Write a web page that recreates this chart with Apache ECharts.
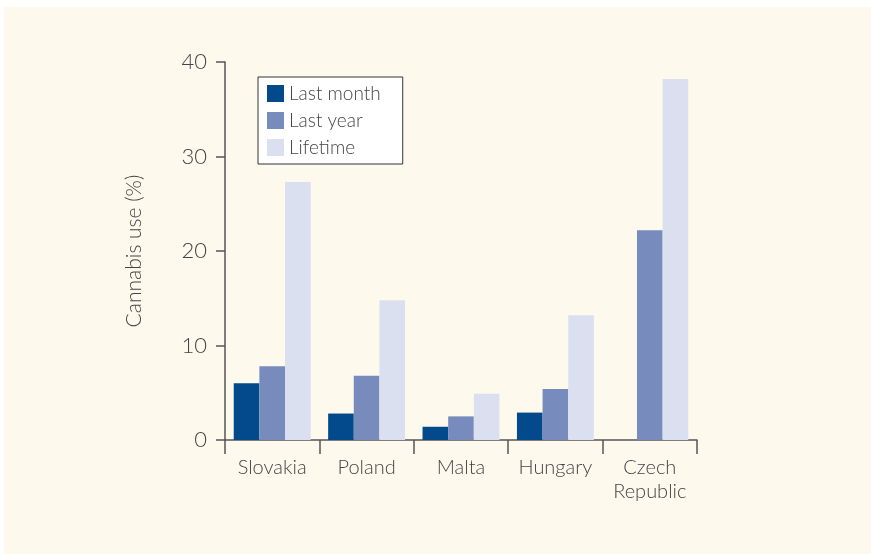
<!DOCTYPE html>
<html>
<head>
<meta charset="utf-8">
<script src="https://cdn.jsdelivr.net/npm/echarts@6/dist/echarts.min.js"></script>
<style>
  html, body { margin: 0; padding: 0; background: #ffffff; }
  #wrap { position: relative; width: 871px; height: 554px; }
  #panel { position: absolute; left: 4px; top: 7px; right: 0; bottom: 0; background: #fdf9ec; }
  #main { position: absolute; left: 0; top: 0; width: 871px; height: 554px; }
</style>
</head>
<body>
<div id="wrap">
  <div id="panel"></div>
  <div id="main"></div>
</div>
<script>
  // datos
  var countries = ['Slovakia', 'Poland', 'Malta', 'Hungary', 'Czech\nRepublic'];
  var lastMonth = [6.0, 2.8, 1.4, 2.9, null];
  var lastYear = [7.8, 6.8, 2.5, 5.4, 22.2];
  var lifetime = [27.3, 14.8, 4.9, 13.2, 38.2];
  var yTicks = [0, 10, 20, 30, 40];

  var font = 'Lato';
  var textColor = '#444444';
  var axisColor = '#555555';

  var chartDom = document.getElementById('main');
  var myChart = echarts.init(chartDom);

  var option = {
    backgroundColor: 'transparent',
    animation: false,
    grid: { left: 225, right: 174, top: 62, bottom: 114 },
    legend: {
      orient: 'vertical',
      left: 258,
      top: 77,
      padding: [7, 22, 7, 9],
      icon: 'rect',
      itemWidth: 17,
      itemHeight: 17,
      itemGap: 8,
      backgroundColor: '#ffffff',
      borderColor: '#333333',
      borderWidth: 1,
      borderRadius: 0,
      textStyle: { fontFamily: font, fontWeight: 300, fontSize: 19, color: textColor },
      data: ['Last month', 'Last year', 'Lifetime']
    },
    xAxis: {
      type: 'category',
      data: countries,
      axisLine: { lineStyle: { color: axisColor, width: 1.5 } },
      axisTick: { show: true, interval: 0, length: 14, alignWithLabel: false, lineStyle: { color: axisColor, width: 1.5 } },
      axisLabel: { interval: 0, margin: 16, fontFamily: font, fontWeight: 300, fontSize: 20, color: textColor, lineHeight: 24 }
    },
    yAxis: {
      type: 'value',
      min: yTicks[0],
      max: yTicks[yTicks.length - 1],
      interval: 10,
      name: 'Cannabis use (%)',
      nameLocation: 'middle',
      nameGap: 80,
      nameTextStyle: { fontFamily: font, fontWeight: 300, fontSize: 21, color: textColor },
      axisLine: { show: true, lineStyle: { color: axisColor, width: 1.5 } },
      axisTick: { show: true, length: 9, lineStyle: { color: axisColor, width: 1.5 } },
      axisLabel: { margin: 18, fontFamily: font, fontWeight: 300, fontSize: 22, color: textColor },
      splitLine: { show: false }
    },
    series: [
      { name: 'Last month', type: 'bar', data: lastMonth, barGap: 0, barCategoryGap: '18.5%', itemStyle: { color: '#034a8c' } },
      { name: 'Last year', type: 'bar', data: lastYear, barGap: 0, barCategoryGap: '18.5%', itemStyle: { color: '#778cbd' } },
      { name: 'Lifetime', type: 'bar', data: lifetime, barGap: 0, barCategoryGap: '18.5%', itemStyle: { color: '#dae0ef' } }
    ]
  };

  myChart.setOption(option);
</script>
</body>
</html>
